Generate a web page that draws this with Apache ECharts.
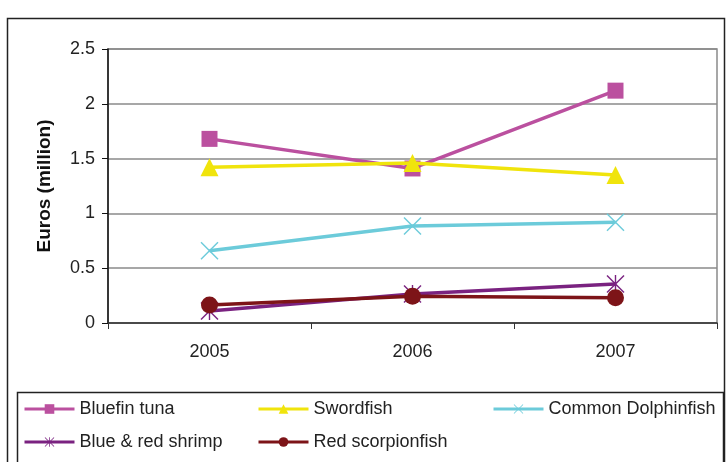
<html>
<head>
    <meta charset="utf-8">
    <title>Euros (million)</title>
    <script src="https://cdn.jsdelivr.net/npm/echarts@6.0.0/dist/echarts.min.js"></script>
</head>
<body style="margin:0;background:#fff">
    <div id="chartmain" style="width:726px; height:462px;"></div>
    <script type="text/javascript">
        var years = ['2005', '2006', '2007'];
        var bluefinTuna = [1.68, 1.41, 2.12];
        var swordfish = [1.42, 1.46, 1.35];
        var dolphinfish = [0.66, 0.885, 0.92];
        var shrimp = [0.11, 0.265, 0.355];
        var scorpionfish = [0.165, 0.245, 0.23];

        var names = ['Bluefin tuna', 'Swordfish', 'Common Dolphinfish', 'Blue & red shrimp', 'Red scorpionfish'];
        var colors = ['#bb509f', '#f0e40c', '#6ccbda', '#7a2280', '#7d1418'];

        // X marker and asterisk marker as thin filled shapes
        var crossPath = 'path://M0,1L1,0L9,8L17,0L18,1L10,9L18,17L17,18L9,10L1,18L0,17L8,9Z';
        var starPath = 'path://M0,1L1,0L9,8L17,0L18,1L10,9L18,17L17,18L9,10L1,18L0,17L8,9Z M8.3,0L9.7,0L9.7,18L8.3,18Z';
        var symbols = ['rect', 'triangle', crossPath, starPath, 'circle'];
        var sizes = [16, 18, 18, 18, 17];
        var values = [bluefinTuna, swordfish, dolphinfish, shrimp, scorpionfish];
        var zs = [3, 4, 2, 5, 6];

        var legendPos = [[23, 400], [257, 400], [492, 400], [23, 433], [257, 433]];

        var font = 'Liberation Sans, Arial, sans-serif';
        var myChart = echarts.init(document.getElementById('chartmain'));

        var series = names.map(function (n, i) {
            return {
                name: n,
                type: 'line',
                data: values[i],
                symbol: symbols[i],
                symbolSize: sizes[i],
                showSymbol: true,
                color: colors[i],
                lineStyle: { width: 3.5, color: colors[i] },
                itemStyle: { color: colors[i] },
                z: zs[i]
            };
        });

        var legends = names.map(function (n, i) {
            return {
                data: [n],
                left: legendPos[i][0],
                top: legendPos[i][1],
                itemWidth: 50,
                itemHeight: 12,
                itemGap: 0,
                lineStyle: { width: 3 },
                textStyle: { fontFamily: font, fontSize: 18, color: '#222' },
                padding: 0,
                selectedMode: false
            };
        });

        myChart.setOption({
            animation: false,
            backgroundColor: '#fff',
            grid: {
                left: 108, right: 9, top: 49, bottom: 139,
                show: true, borderColor: '#8a8a8a', borderWidth: 1.5
            },
            legend: legends,
            xAxis: {
                type: 'category',
                data: years,
                boundaryGap: true,
                axisLine: { lineStyle: { color: '#333', width: 1.5 } },
                axisTick: { show: true, length: 6, interval: 0, lineStyle: { color: '#333' } },
                axisLabel: { fontFamily: font, fontSize: 18, color: '#222', margin: 20 }
            },
            yAxis: {
                type: 'value',
                min: 0, max: 2.5, interval: 0.5,
                name: 'Euros (million)',
                nameLocation: 'middle',
                nameGap: 54,
                nameTextStyle: { fontFamily: font, fontSize: 19, fontWeight: 'bold', color: '#111' },
                axisLine: { show: true, lineStyle: { color: '#111', width: 1.5 } },
                axisTick: { show: true, length: 6, lineStyle: { color: '#111' } },
                axisLabel: { fontFamily: font, fontSize: 18, color: '#222', margin: 13 },
                splitLine: { lineStyle: { color: '#8a8a8a', width: 1.5 } }
            },
            graphic: [
                {
                    type: 'rect', silent: true, z: -1,
                    shape: { x: 7.5, y: 18.5, width: 717, height: 460 },
                    style: { fill: 'none', stroke: '#222', lineWidth: 1.5 }
                },
                {
                    type: 'rect', silent: true, z: -1,
                    shape: { x: 17.5, y: 392.5, width: 706, height: 80 },
                    style: { fill: 'none', stroke: '#222', lineWidth: 1.5 }
                }
            ],
            series: series
        });
    </script>
</body>
</html>
